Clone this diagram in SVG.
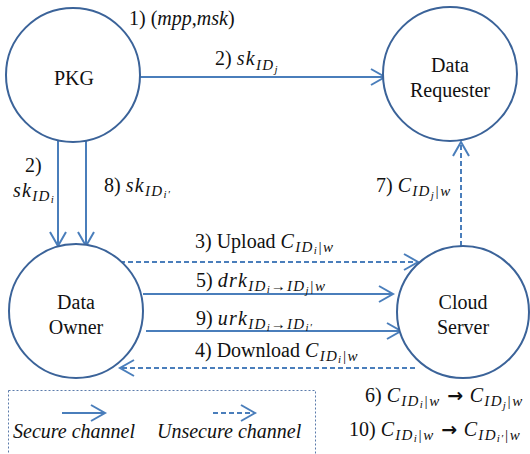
<svg xmlns="http://www.w3.org/2000/svg" width="530" height="454" viewBox="0 0 530 454">
<style>
.node{fill:#fff;stroke:#3b6399;stroke-width:2}
.ln{fill:none;stroke:#4a7ebb;stroke-width:2}
.dash{stroke-dasharray:5 3}
.m{font-style:italic}
.x{letter-spacing:1.3px}
.s{font-style:italic;font-size:15px;letter-spacing:1.3px}
.ss{font-style:italic;font-size:11px;letter-spacing:1px}
.ar{font-family:'DejaVu Sans',sans-serif;font-weight:bold;font-size:19px}
</style>
<defs>
<marker id="ah" markerUnits="userSpaceOnUse" markerWidth="20" markerHeight="20" refX="15" refY="9" orient="auto">
<path d="M1,1 L15,9 L1,17" fill="none" stroke="#4a7ebb" stroke-width="2" stroke-dasharray="none"/>
</marker>
</defs>
<rect width="530" height="454" fill="#fff"/>
<g id="connectors">
<line class="ln" x1="140" y1="77" x2="385" y2="77" marker-end="url(#ah)"/>
<line class="ln" x1="58" y1="140" x2="58" y2="246" marker-end="url(#ah)"/>
<line class="ln" x1="86" y1="137" x2="86" y2="246" marker-end="url(#ah)"/>
<line class="ln dash" x1="461" y1="246" x2="461" y2="142" marker-end="url(#ah)"/>
<line class="ln dash" x1="120" y1="262" x2="418" y2="262" marker-end="url(#ah)"/>
<line class="ln" x1="143" y1="294" x2="393" y2="294" marker-end="url(#ah)"/>
<line class="ln" x1="146" y1="331" x2="401" y2="331" marker-end="url(#ah)"/>
<line class="ln dash" x1="415" y1="368" x2="120" y2="368" marker-end="url(#ah)"/>
</g>
<g font-family="Liberation Serif, Times New Roman, DejaVu Serif, Times, serif" font-size="20" fill="#111">
<g id="pkg"><circle class="node" cx="73" cy="75" r="67"/><text x="74" y="85" text-anchor="middle">PKG</text></g>
<g id="data-requester"><circle class="node" cx="450" cy="74" r="67"/><text x="450" y="72" text-anchor="middle">Data</text><text x="450" y="97" text-anchor="middle">Requester</text></g>
<g id="data-owner"><circle class="node" cx="76" cy="311" r="67"/><text x="76" y="309" text-anchor="middle">Data</text><text x="76" y="334" text-anchor="middle">Owner</text></g>
<g id="cloud-server"><circle class="node" cx="463" cy="312" r="66"/><text x="463" y="309" text-anchor="middle">Cloud</text><text x="463" y="334" text-anchor="middle">Server</text></g>
<g id="labels">
<text x="129" y="25">1) (<tspan class="m">mpp</tspan>,<tspan class="m">msk</tspan>)</text>
<text x="215" y="65">2) <tspan class="m x">sk</tspan><tspan class="s" dy="5">ID</tspan><tspan class="ss" dy="3">j</tspan></text>
<text x="25" y="172">2)</text>
<text x="13" y="197"><tspan class="m x">sk</tspan><tspan class="s" dy="4">ID</tspan><tspan class="ss" dy="2">i</tspan></text>
<text x="104" y="192">8) <tspan class="m x">sk</tspan><tspan class="s" dy="4">ID</tspan><tspan class="ss" dy="2">i′</tspan></text>
<text x="376" y="192">7) <tspan class="m x">C</tspan><tspan class="s" dy="4">ID</tspan><tspan class="ss" dy="3">j</tspan><tspan class="s" dy="-3">|w</tspan></text>
<text x="195" y="248">3) Upload <tspan class="m x">C</tspan><tspan class="s" dy="4">ID</tspan><tspan class="ss" dy="2">i</tspan><tspan class="s" dy="-2">|w</tspan></text>
<text x="196" y="287">5) <tspan class="m x">drk</tspan><tspan class="s" dy="4">ID</tspan><tspan class="ss" dy="2">i</tspan><tspan class="s" dy="-2">→ID</tspan><tspan class="ss" dy="3">j</tspan><tspan class="s" dy="-3">|w</tspan></text>
<text x="196" y="325">9) <tspan class="m x">urk</tspan><tspan class="s" dy="4">ID</tspan><tspan class="ss" dy="2">i</tspan><tspan class="s" dy="-2">→ID</tspan><tspan class="ss" dy="2">i′</tspan></text>
<text x="195" y="357">4) Download <tspan class="m x">C</tspan><tspan class="s" dy="4">ID</tspan><tspan class="ss" dy="2">i</tspan><tspan class="s" dy="-2">|w</tspan></text>
<text x="365" y="402">6) <tspan class="m x">C</tspan><tspan class="s" dy="4">ID</tspan><tspan class="ss" dy="2">i</tspan><tspan class="s" dy="-2">|w</tspan><tspan class="ar" dy="-4"> → </tspan><tspan class="m x">C</tspan><tspan class="s" dy="4">ID</tspan><tspan class="ss" dy="3">j</tspan><tspan class="s" dy="-3">|w</tspan></text>
<text x="349" y="436">10) <tspan class="m x">C</tspan><tspan class="s" dy="4">ID</tspan><tspan class="ss" dy="2">i</tspan><tspan class="s" dy="-2">|w</tspan><tspan class="ar" dy="-4"> → </tspan><tspan class="m x">C</tspan><tspan class="s" dy="4">ID</tspan><tspan class="ss" dy="2">i′</tspan><tspan class="s" dy="-2">|w</tspan></text>
</g>
<g id="legend">
<rect x="8.5" y="390.5" width="307" height="80" fill="none" stroke="#5b7bab" stroke-width="1" stroke-dasharray="2 2"/>
<line class="ln" x1="62" y1="413" x2="105" y2="413" marker-end="url(#ah)"/>
<line class="ln dash" x1="213" y1="413" x2="255" y2="413" marker-end="url(#ah)"/>
<text class="m" x="13" y="438">Secure channel</text>
<text class="m" x="157" y="438">Unsecure channel</text>
</g>
</g>
</svg>
